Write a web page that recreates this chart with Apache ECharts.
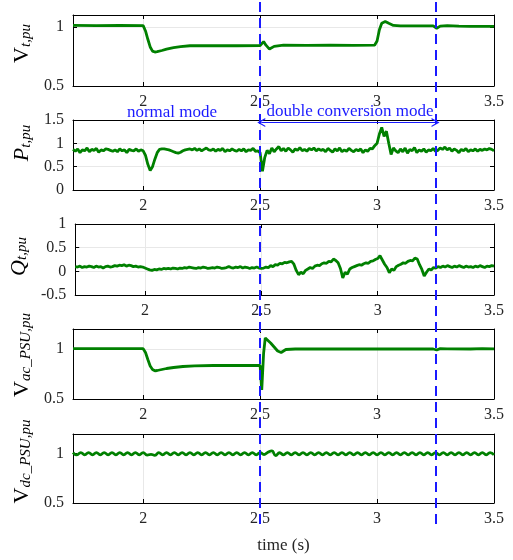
<!DOCTYPE html>
<html>
<head>
<meta charset="utf-8">
<script src="https://cdn.jsdelivr.net/npm/echarts@6/dist/echarts.min.js"></script>
<style>
html, body { margin: 0; background: #fff; }
#chart { width: 513px; height: 560px; }
</style>
</head>
<body>
<div id="chart"></div>
<script>
// time axis ticks and mode switch instants
const xTicks = [2, 2.5, 3, 3.5];
const modeSwitchTimes = [2.505, 3.25];

// V_t,pu (sparse samples)
const vtTime = [1.70, 1.80, 1.90, 2.00, 2.01, 2.02, 2.03, 2.04, 2.05, 2.06,
  2.08, 2.10, 2.13, 2.16, 2.20, 2.30, 2.40, 2.50, 2.505, 2.515,
  2.525, 2.54, 2.56, 2.60, 2.70, 2.80, 2.90, 2.99, 3.00, 3.01,
  3.02, 3.035, 3.05, 3.07, 3.10, 3.20, 3.24, 3.255, 3.27, 3.30,
  3.35, 3.40, 3.50];
const vtVal = [1.012, 1.010, 1.012, 1.010, 0.965, 0.895, 0.830, 0.795, 0.787, 0.790,
  0.800, 0.812, 0.825, 0.833, 0.840, 0.842, 0.840, 0.842, 0.850, 0.875,
  0.845, 0.812, 0.835, 0.845, 0.843, 0.845, 0.843, 0.846, 0.880, 0.975,
  1.030, 1.045, 1.030, 1.012, 1.008, 1.008, 1.008, 0.988, 1.006, 1.010,
  1.006, 1.004, 1.004];

// P_t,pu and Q_t,pu sampled every 10 ms from 1.70 s
const pqTime = Array.from({ length: 181 }, (_, i) => +(1.7 + i * 0.01).toFixed(2));
const ptVal = [
  0.87, 0.83, 0.88, 0.80, 0.86, 0.84, 0.90, 0.82, 0.87, 0.85,
  0.89, 0.81, 0.86, 0.84, 0.88, 0.87, 0.85, 0.83, 0.86, 0.82,
  0.88, 0.84, 0.86, 0.80, 0.87, 0.85, 0.84, 0.88, 0.83, 0.86,
  0.84, 0.74, 0.55, 0.42, 0.50, 0.66, 0.80, 0.87, 0.88, 0.88,
  0.87, 0.86, 0.84, 0.82, 0.80, 0.79, 0.81, 0.84, 0.86, 0.87,
  0.88, 0.86, 0.89, 0.85, 0.88, 0.84, 0.87, 0.90, 0.86, 0.85,
  0.88, 0.83, 0.87, 0.85, 0.89, 0.82, 0.86, 0.84, 0.88, 0.85,
  0.83, 0.87, 0.84, 0.88, 0.82, 0.86, 0.85, 0.89, 0.83, 0.84,
  0.80, 0.40, 0.70, 0.85, 0.78, 0.90, 0.82, 0.88, 0.93, 0.84,
  0.89, 0.83, 0.90, 0.86, 0.81, 0.88, 0.85, 0.91, 0.84, 0.87,
  0.83, 0.89, 0.86, 0.90, 0.84, 0.88, 0.85, 0.87, 0.82, 0.89,
  0.85, 0.81, 0.88, 0.84, 0.90, 0.82, 0.86, 0.83, 0.89, 0.85,
  0.82, 0.87, 0.84, 0.88, 0.80, 0.86, 0.83, 0.89, 0.88, 0.95,
  1.00, 1.20, 1.34, 1.15, 1.26, 1.00, 0.76, 0.90, 0.84, 0.80,
  0.88, 0.82, 0.90, 0.79, 0.87, 0.84, 0.91, 0.80, 0.86, 0.83,
  0.88, 0.81, 0.86, 0.84, 0.89, 0.83, 0.85, 0.90, 0.87, 0.92,
  0.86, 0.90, 0.83, 0.88, 0.85, 0.80, 0.87, 0.84, 0.89, 0.82,
  0.86, 0.84, 0.88, 0.83, 0.87, 0.85, 0.88, 0.86, 0.89, 0.87,
  0.84];
const qtVal = [
  0.10, 0.09, 0.11, 0.08, 0.10, 0.09, 0.11, 0.10, 0.08, 0.11,
  0.09, 0.10, 0.07, 0.10, 0.11, 0.09, 0.10, 0.12, 0.11, 0.13,
  0.12, 0.14, 0.11, 0.13, 0.12, 0.10, 0.11, 0.09, 0.10, 0.09,
  0.07, 0.05, 0.03, 0.02, 0.04, 0.03, 0.05, 0.04, 0.06, 0.05,
  0.06, 0.05, 0.07, 0.06, 0.05, 0.07, 0.06, 0.08, 0.07, 0.09,
  0.08, 0.07, 0.06, 0.08, 0.07, 0.09, 0.08, 0.06, 0.07, 0.08,
  0.07, 0.09, 0.08, 0.06, 0.07, 0.08, 0.10, 0.08, 0.07, 0.09,
  0.08, 0.10, 0.07, 0.09, 0.08, 0.06, 0.08, 0.07, 0.09, 0.07,
  0.06, 0.07, 0.09, 0.08, 0.12, 0.10, 0.14, 0.13, 0.17, 0.16,
  0.19, 0.18, 0.20, 0.21, 0.15, 0.02, -0.07, -0.02, -0.05, 0.02,
  0.05, 0.08, 0.06, 0.11, 0.13, 0.12, 0.16, 0.18, 0.17, 0.21,
  0.20, 0.26, 0.23, 0.18, 0.06, -0.14, -0.02, -0.06, 0.05, 0.08,
  0.10, 0.12, 0.14, 0.13, 0.16, 0.18, 0.17, 0.21, 0.22, 0.25,
  0.27, 0.33, 0.24, 0.15, 0.08, -0.03, 0.05, 0.02, 0.10, 0.13,
  0.15, 0.18, 0.17, 0.21, 0.23, 0.22, 0.28, 0.26, 0.14, 0.04,
  -0.10, -0.02, 0.05, 0.03, 0.08, 0.07, 0.10, 0.08, 0.11, 0.09,
  0.12, 0.10, 0.08, 0.11, 0.09, 0.12, 0.10, 0.08, 0.11, 0.09,
  0.10, 0.08, 0.11, 0.09, 0.12, 0.10, 0.08, 0.11, 0.10, 0.12,
  0.11];

// V_ac_PSU,pu (sparse samples)
const vacTime = [1.70, 1.85, 2.00, 2.01, 2.02, 2.03, 2.04, 2.05, 2.06, 2.08,
  2.10, 2.13, 2.17, 2.22, 2.30, 2.40, 2.500, 2.503, 2.507, 2.515,
  2.522, 2.530, 2.545, 2.560, 2.575, 2.590, 2.610, 2.65, 2.80, 3.00,
  3.24, 3.255, 3.27, 3.30, 3.40, 3.45, 3.50];
const vacVal = [1.003, 1.003, 1.003, 0.965, 0.895, 0.830, 0.795, 0.782, 0.785, 0.795,
  0.805, 0.815, 0.825, 0.832, 0.835, 0.835, 0.835, 0.720, 0.590, 0.960,
  1.110, 1.100, 1.060, 1.020, 0.980, 0.965, 0.995, 1.000, 1.000, 1.000,
  1.000, 0.990, 1.004, 1.002, 1.000, 1.004, 1.002];

// V_dc_PSU,pu: ripple peaks/troughs every 1/60 s from 1.70 s
const vdcT0 = 1.7;
const vdcStep = 1 / 60;
const vdcVal = [
  1.012, 0.988, 1.012, 0.988, 1.012, 0.988, 1.012, 0.988, 1.012, 0.988, 1.012, 0.988,
  1.012, 0.988, 1.012, 0.988, 1.012, 0.988, 1.012, 0.986, 0.994, 0.983, 1.012, 0.988,
  1.012, 0.988, 1.012, 0.988, 1.012, 0.988, 1.012, 0.988, 1.012, 0.988, 1.012, 0.988,
  1.012, 0.988, 1.012, 0.988, 1.012, 0.988, 1.012, 0.988, 1.012, 0.988, 1.012, 0.988,
  1.012, 0.992, 1.015, 1.028, 0.980, 1.010, 0.988, 1.012, 0.988, 1.012, 0.988, 1.012,
  0.988, 1.012, 0.988, 1.012, 0.988, 1.012, 0.988, 1.012, 0.988, 1.012, 0.988, 1.012,
  0.988, 1.012, 0.988, 1.012, 0.988, 1.012, 0.988, 1.012, 0.988, 1.012, 0.988, 1.012,
  0.988, 1.012, 0.988, 1.012, 0.988, 1.012, 0.988, 1.012, 0.988, 1.012, 0.988, 1.012,
  0.988, 1.012, 0.988, 1.012, 0.988, 1.012, 0.988, 1.012, 0.988, 1.012, 0.988, 1.012,
  0.988];
const vdcTime = vdcVal.map((_, i) => vdcT0 + i * vdcStep);

const pairs = (ts, vs) => ts.map((t, i) => [t, vs[i]]);

const FONT = '"Liberation Serif", "Times New Roman", serif';
const GREEN = '#008000';
const BLUE = '#1a1aff';

// lift = how far the rotated y title sits above the panel middle (px)
const panels = [
  { name: '{m|V}{s|t,pu}', italic: false, min: 0.5, max: 1.1, ticks: [0.5, 1], data: pairs(vtTime, vtVal), gap: 28, lift: 7 },
  { name: '{m|P}{s|t,pu}', italic: true, min: 0, max: 1.5, ticks: [0, 0.5, 1, 1.5], data: pairs(pqTime, ptVal), gap: 28, lift: 12 },
  { name: '{m|Q}{s|t,pu}', italic: true, min: -0.5, max: 1, ticks: [-0.5, 0, 0.5, 1], data: pairs(pqTime, qtVal), gap: 36, lift: 3 },
  { name: '{m|V}{s|ac_PSU,pu}', italic: false, min: 0.5, max: 1.2, ticks: [0.5, 1], data: pairs(vacTime, vacVal), gap: 28, lift: 9 },
  { name: '{m|V}{s|dc_PSU,pu}', italic: false, min: 0.5, max: 1.2, ticks: [0.5, 1], data: pairs(vdcTime, vdcVal), gap: 28, lift: 7, smooth: true }
];
const gridTops = [15, 120, 224, 329, 434];
const gridHeights = [71, 70, 71, 70, 69];

const myChart = echarts.init(document.getElementById('chart'));

const grid = [], xAxis = [], yAxis = [], series = [];
const axisLine = { show: true, onZero: false, lineStyle: { color: '#000', width: 1 } };
const splitLine = { show: true, lineStyle: { color: '#e8e8e8', width: 1 } };

panels.forEach((p, i) => {
  grid.push({ left: 73, width: 421, top: gridTops[i], height: gridHeights[i] });
  xAxis.push({
    type: 'value', gridIndex: i, min: 1.7, max: 3.5, position: 'bottom',
    axisLine, splitLine,
    axisTick: { inside: true, length: 4, customValues: xTicks, lineStyle: { color: '#000' } },
    axisLabel: { customValues: xTicks, fontFamily: FONT, fontSize: 16, color: '#262626', margin: 8 },
    name: i === 4 ? 'time (s)' : '', nameLocation: 'middle', nameGap: 34,
    nameTextStyle: { fontFamily: FONT, fontSize: 17, color: '#262626' }
  });
  xAxis.push({
    type: 'value', gridIndex: i, min: 1.7, max: 3.5, position: 'top',
    axisLine, splitLine: { show: false }, axisLabel: { show: false },
    axisTick: { inside: true, length: 4, customValues: xTicks, lineStyle: { color: '#000' } }
  });
  yAxis.push({
    type: 'value', gridIndex: i, min: p.min, max: p.max, position: 'left',
    axisLine, splitLine,
    axisTick: { inside: true, length: 4, customValues: p.ticks, lineStyle: { color: '#000' } },
    axisLabel: { customValues: p.ticks, fontFamily: FONT, fontSize: 16, color: '#262626', margin: 9 },
    name: p.name, nameLocation: 'middle', nameRotate: 90, nameGap: p.gap,
    nameTextStyle: {
      padding: [0, 0, 0, 2 * p.lift],
      rich: {
        m: { fontFamily: FONT, fontSize: 22, fontStyle: p.italic ? 'italic' : 'normal', color: '#000', lineHeight: 22, verticalAlign: 'bottom' },
        s: { fontFamily: FONT, fontSize: 15, fontStyle: 'italic', color: '#000', lineHeight: 10, verticalAlign: 'bottom' }
      }
    }
  });
  yAxis.push({
    type: 'value', gridIndex: i, min: p.min, max: p.max, position: 'right',
    axisLine, splitLine: { show: false }, axisLabel: { show: false },
    axisTick: { inside: true, length: 4, customValues: p.ticks, lineStyle: { color: '#000' } }
  });
  const s = {
    type: 'line', xAxisIndex: 2 * i, yAxisIndex: 2 * i, data: p.data,
    showSymbol: false, smooth: p.smooth ? 0.5 : false,
    lineStyle: { color: GREEN, width: 2.8 }, z: 3
  };
  if (i === 1) {
    // double-headed arrow marking the double conversion interval
    const arrow = 'path://M5,0 L10,10 L8.4,10 L5,3 L1.6,10 L0,10 Z';
    s.markLine = {
      silent: true, symbol: [arrow, arrow], symbolSize: [9, 8],
      lineStyle: { color: BLUE, width: 1.2, type: 'solid' },
      label: { show: false },
      data: [[{ coord: [modeSwitchTimes[0], 1.445] }, { coord: [modeSwitchTimes[1], 1.445] }]]
    };
  }
  series.push(s);
});

// overlay grid for the dashed mode-switch lines spanning all panels
grid.push({ left: 73, width: 421, top: 0, height: 524 });
xAxis.push({ type: 'value', gridIndex: 5, min: 1.7, max: 3.5, show: false });
yAxis.push({ type: 'value', gridIndex: 5, min: 0, max: 1, show: false });
series.push({
  type: 'line', xAxisIndex: 10, yAxisIndex: 10, data: [], z: 10,
  markLine: {
    silent: true, symbol: ['none', 'none'], label: { show: false },
    lineStyle: { color: BLUE, width: 2, type: [10, 6] },
    data: modeSwitchTimes.map(t => ({ xAxis: t }))
  }
});

const option = {
  animation: false,
  backgroundColor: '#fff',
  grid, xAxis, yAxis, series,
  graphic: [
    { type: 'text', x: 172, y: 113, z: 20, style: { text: 'normal mode', fill: BLUE, font: '17px "Liberation Serif"', textAlign: 'center', textVerticalAlign: 'middle' } },
    { type: 'text', x: 350, y: 112, z: 20, style: { text: 'double conversion mode', fill: BLUE, font: '17px "Liberation Serif"', textAlign: 'center', textVerticalAlign: 'middle' } }
  ]
};
myChart.setOption(option);
</script>
</body>
</html>
